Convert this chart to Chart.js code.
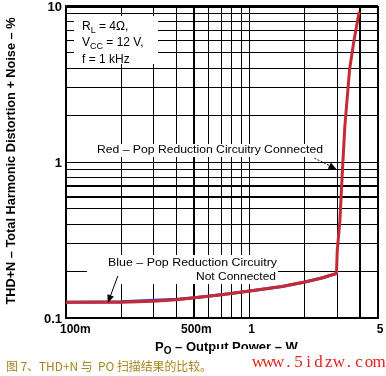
<!DOCTYPE html>
<html>
<head>
<meta charset="utf-8">
<script src="https://cdn.jsdelivr.net/npm/chart.js@4.4.1/dist/chart.umd.min.js"></script>
<style>
  html, body { margin: 0; padding: 0; background: #fff; }
  canvas { display: block; }
</style>
</head>
<body>
<canvas id="myChart" width="386" height="376"></canvas>
<script>
// values (W, %)
const redPower = [0.1, 0.2, 0.3, 0.4, 0.5, 0.7, 1, 1.5, 2, 2.5, 2.97, 3.0, 3.1, 3.2, 3.3, 3.5, 3.7, 3.95];
const redThd = [0.126, 0.126, 0.128, 0.131, 0.135, 0.141, 0.149, 0.159, 0.170, 0.181, 0.193, 0.27, 0.42, 0.88, 1.7, 3.9, 6.0, 9.2];
const bluePower = [0.1, 0.2, 0.3, 0.4, 0.5, 0.7, 1, 1.5, 2, 2.5, 2.97];
const blueThd = [0.126, 0.127, 0.130, 0.132, 0.135, 0.141, 0.149, 0.159, 0.170, 0.181, 0.193];

// grid lines and tick labels
const xGrid = [0.1, 0.2, 0.3, 0.4, 0.5, 0.6, 0.7, 0.8, 0.9, 1, 2, 3, 4, 5];
const yGrid = [0.1, 0.2, 0.3, 0.4, 0.5, 0.6, 0.7, 0.8, 0.9, 1, 2, 3, 4, 5, 6, 7, 8, 9, 10];
const xHeavy = [0.5, 4, 5];
const yHeavy = [0.6, 0.7, 10];
const xTickValues = [0.1, 0.5, 1, 5];
const xTickLabels = ["100m", "500m", "1", "5"];
const yTickValues = [10, 1, 0.1];
const yTickLabels = ["10", "1", "0.1"];

const FONT = '"Liberation Sans", Arial, sans-serif';

function fitText(ctx, text, x, y, width, align) {
  const w = ctx.measureText(text).width;
  ctx.save();
  ctx.translate(x, y);
  ctx.scale(width / w, 1);
  ctx.textAlign = align;
  ctx.fillText(text, 0, 0);
  ctx.restore();
}

function richText(ctx, parts, x, y, size, weight) {
  let cx = x;
  ctx.textAlign = "left";
  parts.forEach(([t, sub]) => {
    ctx.font = `${weight} ${sub ? Math.round(size * 0.78) : size}px ${FONT}`;
    ctx.fillText(t, cx, sub ? y + size * 0.32 : y);
    cx += ctx.measureText(t).width;
  });
}

function arrow(ctx, x1, y1, x2, y2, dashed) {
  const a = Math.atan2(y2 - y1, x2 - x1);
  ctx.save();
  ctx.strokeStyle = "#000";
  ctx.fillStyle = "#000";
  ctx.lineWidth = 1;
  if (dashed) ctx.setLineDash([2, 1.5]);
  ctx.beginPath();
  ctx.moveTo(x1, y1);
  ctx.lineTo(x2 - 5 * Math.cos(a), y2 - 5 * Math.sin(a));
  ctx.stroke();
  ctx.setLineDash([]);
  ctx.beginPath();
  ctx.moveTo(x2, y2);
  ctx.lineTo(x2 - 8 * Math.cos(a) + 3.5 * Math.sin(a), y2 - 8 * Math.sin(a) - 3.5 * Math.cos(a));
  ctx.lineTo(x2 - 8 * Math.cos(a) - 3.5 * Math.sin(a), y2 - 8 * Math.sin(a) + 3.5 * Math.cos(a));
  ctx.closePath();
  ctx.fill();
  ctx.restore();
}

const labelsPlugin = {
  id: "labels",
  beforeDraw(chart) {
    const ctx = chart.ctx;
    ctx.save();
    ctx.fillStyle = "#fff";
    ctx.fillRect(0, 0, chart.width, chart.height);
    ctx.restore();
  },
  beforeDatasetsDraw(chart) {
    const ctx = chart.ctx;
    ctx.save();
    // white boxes behind in-plot notes
    ctx.fillStyle = "#fff";
    ctx.fillRect(74, 16, 84, 48);
    ctx.fillRect(95, 144, 230, 13);
    ctx.fillRect(87, 255, 191, 29);

    ctx.fillStyle = "#000";
    ctx.textBaseline = "middle";
    richText(ctx, [["R", false], ["L", true], [" = 4\u03a9,", false]], 82, 27, 12, "normal");
    richText(ctx, [["V", false], ["CC", true], [" = 12 V,", false]], 82, 43, 12, "normal");
    richText(ctx, [["f = 1 kHz", false]], 82, 60, 12, "normal");

    ctx.font = `11px ${FONT}`;
    fitText(ctx, "Red \u2013 Pop Reduction Circuitry Connected", 97, 150, 226, "left");
    fitText(ctx, "Blue \u2013 Pop Reduction Circuitry", 108, 263, 169, "left");
    fitText(ctx, "Not Connected", 196, 277, 80, "left");
    ctx.restore();
  },
  afterDatasetsDraw(chart) {
    const ctx = chart.ctx;
    const xs = chart.scales.x;
    const ys = chart.scales.y;
    const rx = xs.getPixelForValue(2.97), ry = ys.getPixelForValue(0.9);
    arrow(ctx, rx - 22, ry - 11, rx, ry, true);
    const bx = xs.getPixelForValue(0.169), by = ys.getPixelForValue(0.125);
    arrow(ctx, bx + 10, by - 27, bx, by, false);
  },
  afterDraw(chart) {
    const ctx = chart.ctx;
    const xs = chart.scales.x;
    const ys = chart.scales.y;
    ctx.save();
    ctx.fillStyle = "#000";
    ctx.textBaseline = "middle";
    ctx.font = `bold 12px ${FONT}`;
    xTickValues.forEach((v, i) => {
      const px = xs.getPixelForValue(v);
      if (i === 0) {
        ctx.textAlign = "left";
        ctx.fillText(xTickLabels[i], px - 6, 330);
      } else {
        ctx.textAlign = "center";
        ctx.fillText(xTickLabels[i], px + 2, 330);
      }
    });
    ctx.font = `bold 13px ${FONT}`;
    ctx.textAlign = "right";
    yTickValues.forEach((v, i) => {
      ctx.fillText(yTickLabels[i], 62, ys.getPixelForValue(v) + 1);
    });

    // axis titles
    richText(ctx, [["P", false], ["O", true], [" \u2013 Output Power \u2013 W", false]], 155, 347, 13, "bold");
    ctx.save();
    ctx.translate(12, 161);
    ctx.rotate(-Math.PI / 2);
    ctx.font = `bold 12px ${FONT}`;
    fitText(ctx, "THD+N \u2013 Total Harmonic Distortion + Noise \u2013 %", 0, 0, 287, "center");
    ctx.restore();

    // caption and watermark
    ctx.fillStyle = "#fff";
    ctx.fillRect(214, 349, 172, 27);
    ctx.fillStyle = "#a8841c";
    ctx.font = '12px "Noto Sans CJK SC"';
    fitText(ctx, "\u56fe 7\u3001THD+N \u4e0e  PO \u626b\u63cf\u7ed3\u679c\u7684\u6bd4\u8f83\u3002", 6, 366, 206, "left");
    ctx.fillStyle = "#e0241e";
    ctx.font = '17px "Liberation Serif", serif';
    ctx.textAlign = "center";
    "www.5idzw.com".split("").forEach((c, i) => {
      ctx.fillText(c, 258 + i * 10.1, 363);
    });
    ctx.restore();
  }
};

document.addEventListener("DOMContentLoaded", () => {
  const ctx = document.getElementById("myChart").getContext("2d");

  new Chart(ctx, {
    type: "line",
    data: {
      datasets: [
        {
          label: "Blue",
          data: bluePower.map((p, i) => ({ x: p, y: blueThd[i] })),
          borderColor: "#4a44a6",
          borderWidth: 3,
          pointRadius: 0,
          tension: 0,
          order: 2,
        },
        {
          label: "Red",
          data: redPower.map((p, i) => ({ x: p, y: redThd[i] })),
          borderColor: "#c62a36",
          borderWidth: 3,
          pointRadius: 0,
          tension: 0,
          order: 1,
        },
      ],
    },
    options: {
      responsive: false,
      animation: false,
      devicePixelRatio: 1,
      layout: { padding: { left: 66, right: 8, top: 6, bottom: 58 } },
      plugins: { legend: { display: false }, tooltip: { enabled: false } },
      scales: {
        x: {
          type: "logarithmic",
          min: 0.1,
          max: 5,
          afterBuildTicks: (scale) => { scale.ticks = xGrid.map((v) => ({ value: v })); },
          ticks: { display: false },
          grid: {
            color: "#000",
            drawTicks: false,
            lineWidth: (c) => (c.tick && xHeavy.includes(c.tick.value) ? 2 : 1),
          },
          border: { display: true, color: "#000", width: 2 },
        },
        y: {
          type: "logarithmic",
          min: 0.1,
          max: 10,
          afterBuildTicks: (scale) => { scale.ticks = yGrid.map((v) => ({ value: v })); },
          ticks: { display: false },
          grid: {
            color: "#000",
            drawTicks: false,
            lineWidth: (c) => (c.tick && yHeavy.includes(c.tick.value) ? (c.tick.value === 10 ? 3 : 2) : 1),
          },
          border: { display: true, color: "#000", width: 1.5 },
        },
      },
    },
    plugins: [labelsPlugin],
  });
});
</script>
</body>
</html>
